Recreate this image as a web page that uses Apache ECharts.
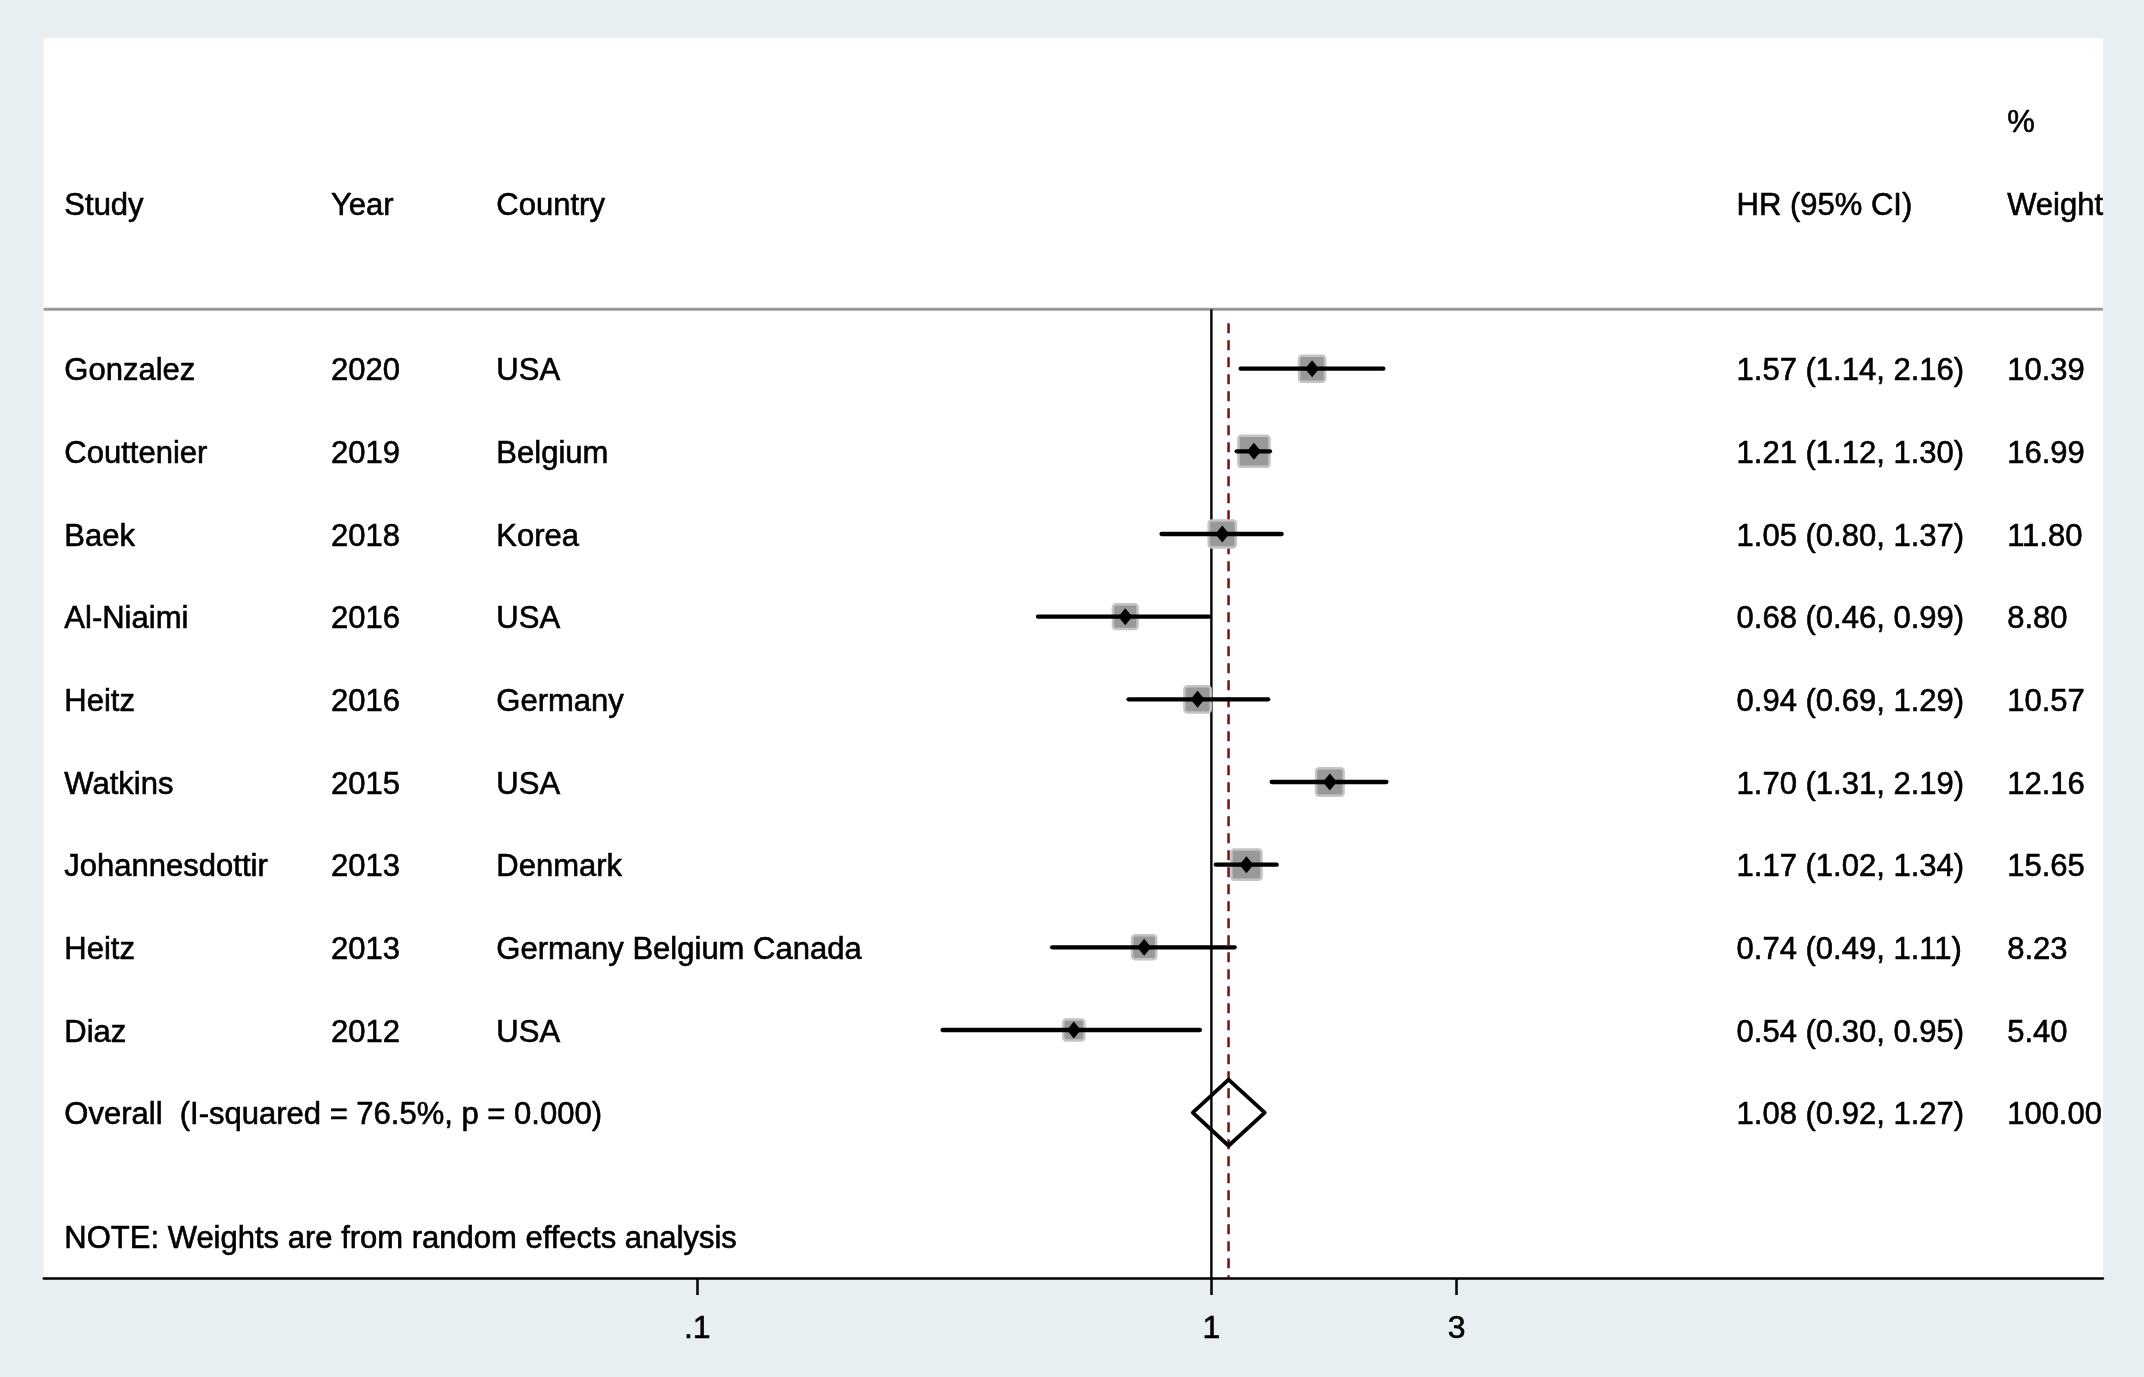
<!DOCTYPE html>
<html><head><meta charset="utf-8">
<script src="https://cdn.jsdelivr.net/npm/echarts@6/dist/echarts.min.js"></script>
<style>html,body{margin:0;padding:0;background:#e8eff2}#c{width:2144px;height:1377px}</style>
</head><body><div id="c"></div>
<script>
// ---- data ----
const studies   = ['Gonzalez','Couttenier','Baek','Al-Niaimi','Heitz','Watkins','Johannesdottir','Heitz','Diaz'];
const years     = ['2020','2019','2018','2016','2016','2015','2013','2013','2012'];
const countries = ['USA','Belgium','Korea','USA','Germany','USA','Denmark','Germany Belgium Canada','USA'];
const hr        = [1.57,1.21,1.05,0.68,0.94,1.70,1.17,0.74,0.54];
const ciLow     = [1.14,1.12,0.80,0.46,0.69,1.31,1.02,0.49,0.30];
const ciHigh    = [2.16,1.30,1.37,0.99,1.29,2.19,1.34,1.11,0.95];
const weights   = [10.39,16.99,11.80,8.80,10.57,12.16,15.65,8.23,5.40];
const overallHR = [1.08, 0.92, 1.27];   // estimate, low, high
const overallWeight = 100.00;
const overallLabel = 'Overall  (I-squared = 76.5%, p = 0.000)';
const noteText = 'NOTE: Weights are from random effects analysis';
const headers = ['Study','Year','Country','HR (95% CI)','Weight'];
const headerTop = '%';
const tickValues = [0.1, 1, 3];
const tickLabels = ['.1','1','3'];
const nullValue = 1;

// ---- layout / style ----
const lg = Math.log10;
const FONT = '"Liberation Sans", Arial, sans-serif';
const FS = 31;
const TEXT_DY = 3;
const axisMinHR = 0.005355, axisMaxHR = 54.22;
const col = {study:0.0100, year:0.1395, country:0.2198, hr:0.8221, weight:0.9535};
const rowHeader = -2, rowTop = -3, rowSep = -0.72, rowOverall = 9, rowNote = 10.5;
const BOX_A = 8, BOX_B = 5.6;

const fmt2 = v => v.toFixed(2);
const tableData = [];
tableData.push([col.study, rowHeader, headers[0]]);
tableData.push([col.year, rowHeader, headers[1]]);
tableData.push([col.country, rowHeader, headers[2]]);
tableData.push([col.hr, rowHeader, headers[3]]);
tableData.push([col.weight, rowHeader, headers[4]]);
tableData.push([col.weight, rowTop, headerTop]);
studies.forEach((s, i) => {
  tableData.push([col.study, i, s]);
  tableData.push([col.year, i, years[i]]);
  tableData.push([col.country, i, countries[i]]);
  tableData.push([col.hr, i, `${fmt2(hr[i])} (${fmt2(ciLow[i])}, ${fmt2(ciHigh[i])})`]);
  tableData.push([col.weight, i, fmt2(weights[i])]);
});
tableData.push([col.study, rowOverall, overallLabel]);
tableData.push([col.hr, rowOverall, `${fmt2(overallHR[0])} (${fmt2(overallHR[1])}, ${fmt2(overallHR[2])})`]);
tableData.push([col.weight, rowOverall, fmt2(overallWeight)]);
tableData.push([col.study, rowNote, noteText]);

const forestData = studies.map((s, i) => [lg(hr[i]), i, lg(ciLow[i]), lg(ciHigh[i]), weights[i]]);
const tickLg = tickValues.map(lg);

const chart = echarts.init(document.getElementById('c'), null, {renderer: 'canvas'});
chart.setOption({
  animation: false,
  backgroundColor: '#e8eff2',
  grid: {left: 43.75, right: 41.1, top: 38, bottom: 99, show: true, backgroundColor: '#ffffff', borderWidth: 0},
  xAxis: [{
    type: 'value', min: lg(axisMinHR), max: lg(axisMaxHR),
    splitLine: {show: false},
    axisLine: {show: true, onZero: false, lineStyle: {color: '#000', width: 2.5}},
    axisTick: {show: true, customValues: tickLg, length: 17, lineStyle: {color: '#000', width: 2.5}},
    axisLabel: {show: true, customValues: tickLg, margin: 35, color: '#000', fontFamily: FONT, fontSize: 32,
      textBorderColor: '#000', textBorderWidth: 0.6,
      formatter: v => { const k = tickLg.findIndex(t => Math.abs(t - v) < 1e-6); return k >= 0 ? tickLabels[k] : ''; }}
  }, {
    type: 'value', min: 0, max: 1, show: false
  }],
  yAxis: [{type: 'value', min: -4, max: 11, inverse: true, show: false}],
  series: [
    { // separator line
      type: 'custom', xAxisIndex: 1, z: 1,
      data: [[0, rowSep, 1]],
      renderItem: (p, api) => {
        const a = api.coord([api.value(0), api.value(1)]);
        const b = api.coord([api.value(2), api.value(1)]);
        return {type: 'line', shape: {x1: a[0], y1: a[1], x2: b[0], y2: b[1]}, style: {stroke: '#9a9a9a', lineWidth: 3}};
      }
    },
    { // reference lines: null and overall
      type: 'custom', xAxisIndex: 0, z: 2,
      data: [[lg(nullValue), rowSep, 11, 0], [lg(overallHR[0]), -0.55, 11, 1]],
      renderItem: (p, api) => {
        const a = api.coord([api.value(0), api.value(1)]);
        const b = api.coord([api.value(0), api.value(2)]);
        const dashed = api.value(3) === 1;
        return {type: 'line', shape: {x1: a[0], y1: a[1], x2: b[0], y2: b[1]},
          style: dashed ? {stroke: '#6e1414', lineWidth: 2.5, lineDash: [10, 7]} : {stroke: '#000', lineWidth: 2.4}};
      }
    },
    { // study estimates
      type: 'custom', xAxisIndex: 0, z: 3,
      data: forestData,
      renderItem: (p, api) => {
        const y = api.value(1);
        const c = api.coord([api.value(0), y]);
        const l = api.coord([api.value(2), y]);
        const h = api.coord([api.value(3), y]);
        const s = BOX_A + BOX_B * Math.sqrt(api.value(4));
        return {type: 'group', children: [
          {type: 'rect', shape: {x: c[0] - s / 2, y: c[1] - s / 2, width: s, height: s, r: 3},
            style: {fill: '#999999', stroke: '#c4c4c4', lineWidth: 2.5}},
          {type: 'line', shape: {x1: l[0], y1: l[1], x2: h[0], y2: h[1]},
            style: {stroke: '#000', lineWidth: 4.3, lineCap: 'round'}},
          {type: 'polygon', shape: {points: [[c[0], c[1] - 8.5], [c[0] + 7, c[1]], [c[0], c[1] + 8.5], [c[0] - 7, c[1]]]},
            style: {fill: '#000'}}
        ]};
      }
    },
    { // overall diamond
      type: 'custom', xAxisIndex: 0, z: 4,
      data: [[lg(overallHR[0]), rowOverall, lg(overallHR[1]), lg(overallHR[2])]],
      renderItem: (p, api) => {
        const y = api.value(1);
        const c = api.coord([api.value(0), y]);
        const l = api.coord([api.value(2), y]);
        const h = api.coord([api.value(3), y]);
        const hh = api.size([0, 0.4])[1];
        return {type: 'polygon', shape: {points: [[l[0], c[1]], [c[0], c[1] - hh], [h[0], c[1]], [c[0], c[1] + hh]]},
          style: {fill: 'rgba(0,0,0,0)', stroke: '#000', lineWidth: 3.8, lineJoin: 'round'}};
      }
    },
    { // table text
      type: 'custom', xAxisIndex: 1, z: 5,
      data: tableData,
      renderItem: (p, api) => {
        const c = api.coord([api.value(0), api.value(1)]);
        const t = tableData[p.dataIndex][2];
        return {type: 'text', x: c[0], y: c[1] + TEXT_DY,
          style: {text: t, fill: '#000', stroke: '#000', lineWidth: 0.6,
            font: `${FS}px ${FONT}`, align: 'left', verticalAlign: 'middle'}};
      }
    }
  ]
});
</script></body></html>
